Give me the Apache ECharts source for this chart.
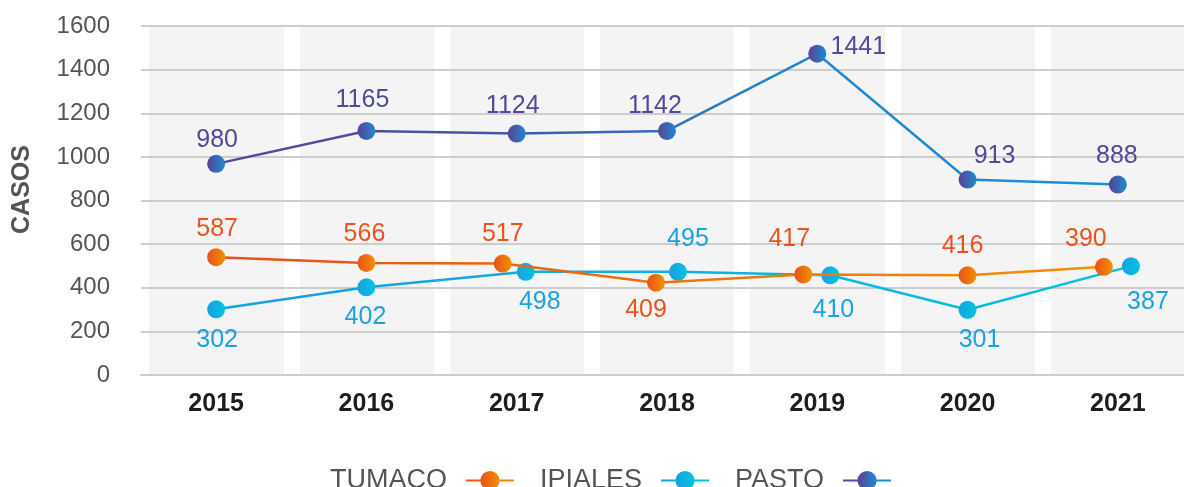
<!DOCTYPE html>
<html>
<head>
<meta charset="utf-8">
<script src="https://cdn.jsdelivr.net/npm/echarts@6/dist/echarts.min.js"></script>
<style>
    html, body { margin: 0; padding: 0; background: #fff; }
    #chart { width: 1184px; height: 487px; }
</style>
</head>
<body>
<div id="chart"></div>
<script>
// years on the x axis
var years = ['2015', '2016', '2017', '2018', '2019', '2020', '2021'];
var yTicks = [0, 200, 400, 600, 800, 1000, 1200, 1400, 1600];

// where the points sit on the picture
var tumacoValues = [540, 514, 511, 423, 461, 457, 496];
var ipialesValues = [301, 402, 473, 473, 457, 299, 499];
var pastoValues = [968, 1119, 1107, 1119, 1473, 896, 873];

// numbers printed next to the points
var tumacoLabels = [587, 566, 517, 409, 417, 416, 390];
var ipialesLabels = [302, 402, 498, 495, 410, 301, 387];
var pastoLabels = [980, 1165, 1124, 1142, 1441, 913, 888];

// small sideways shift so the markers do not overlap (in category units)
var tumacoDodge = [0, 0, -0.093, -0.073, -0.093, 0, -0.093];
var ipialesDodge = [0, 0, 0.06, 0.073, 0.087, 0, 0.087];
var pastoDodge = [0, 0, 0, 0, 0, 0, 0];

// label offsets from the point centre, px
var tumacoLabelOff = [[1, -28], [-2, -29], [0, -29], [-10, 27], [-14, -35], [-5, -29], [-18, -28]];
var ipialesLabelOff = [[1, 31], [-1, 30], [14, 30], [10, -33], [3, 35], [12, 30], [17, 36]];
var pastoLabelOff = [[1, -24], [-4, -31], [-4, -27], [-12, -25], [41, -7], [27, -23], [-1, -28]];

function grad(stops) {
    return new echarts.graphic.LinearGradient(0, 0, 1, 0, stops.map(function (s) {
        return {offset: s[0], color: s[1]};
    }));
}

function buildData(values, labels, dodge, offs) {
    return values.map(function (v, i) {
        return {
            value: [i + dodge[i], v],
            label: {
                formatter: String(labels[i]),
                offset: offs[i]
            }
        };
    });
}

function lineSeries(name, values, labels, dodge, offs, lineGrad, markGrad, labelColor, z) {
    return {
        name: name,
        type: 'line',
        xAxisIndex: 1,
        z: z,
        symbol: 'circle',
        symbolSize: 18,
        data: buildData(values, labels, dodge, offs),
        lineStyle: {width: 2.5, color: lineGrad},
        itemStyle: {color: markGrad},
        label: {
            show: true,
            position: 'inside',
            color: labelColor,
            fontSize: 25,
            fontFamily: 'Liberation Sans'
        },
        emphasis: {disabled: true},
        animation: false
    };
}

var chart = echarts.init(document.getElementById('chart'));

var option = {
    backgroundColor: '#fff',
    animation: false,
    grid: {left: 141, width: 1052, top: 26, bottom: 112, containLabel: false, outerBoundsMode: 'none'},
    legend: {
        data: ['TUMACO', 'IPIALES', 'PASTO'],
        left: 325,
        top: 462,
        align: 'right',
        itemWidth: 48,
        itemHeight: 24,
        itemGap: 25,
        textStyle: {
            fontSize: 27,
            color: '#555',
            fontFamily: 'Liberation Sans',
            padding: [0, 14, 0, 0]
        }
    },
    xAxis: [
        {
            type: 'category',
            data: years,
            boundaryGap: true,
            z: 0,
            axisLine: {show: true, lineStyle: {color: '#cdcdcd', width: 2}},
            axisTick: {show: false},
            axisLabel: {
                margin: 17,
                fontSize: 25,
                fontWeight: 'bold',
                color: '#1e1e1e',
                fontFamily: 'Liberation Sans'
            },
            splitArea: {show: true, areaStyle: {color: ['#f4f4f4']}},
            splitLine: {show: true, lineStyle: {color: '#ffffff', width: 16}}
        },
        {
            type: 'value',
            min: -0.5,
            max: 6.5,
            show: false
        }
    ],
    yAxis: {
        type: 'value',
        min: yTicks[0],
        max: yTicks[yTicks.length - 1],
        interval: 200,
        z: 1,
        name: 'CASOS',
        nameLocation: 'middle',
        nameGap: 106,
        nameTextStyle: {
            fontSize: 25,
            fontWeight: 'bold',
            color: '#555',
            fontFamily: 'Liberation Sans',
            padding: [0, 0, 0, 22]
        },
        axisLine: {show: false},
        axisTick: {show: false},
        axisLabel: {
            margin: 31,
            fontSize: 24,
            color: '#555',
            fontFamily: 'Liberation Sans',
            formatter: function (v) { return String(v); }
        },
        splitLine: {show: true, lineStyle: {color: '#cdcdcd', width: 2}}
    },
    series: [
        lineSeries('TUMACO', tumacoValues, tumacoLabels, tumacoDodge, tumacoLabelOff,
            grad([[0, '#e84e1b'], [1, '#f39200']]),
            grad([[0, '#e8501d'], [1, '#f39200']]),
            '#e8531f', 4),
        lineSeries('IPIALES', ipialesValues, ipialesLabels, ipialesDodge, ipialesLabelOff,
            grad([[0, '#1a9de0'], [1, '#00c3e0']]),
            grad([[0, '#1aa0e0'], [1, '#00c4e0']]),
            '#1aa3df', 3),
        lineSeries('PASTO', pastoValues, pastoLabels, pastoDodge, pastoLabelOff,
            grad([[0, '#55479a'], [0.3, '#4653a8'], [0.5, '#2c72c0'], [0.62, '#1f86cf'], [1, '#1a90d8']]),
            grad([[0, '#5a4094'], [1, '#1f8ad2']]),
            '#51499a', 5)
    ]
};

chart.setOption(option);
</script>
</body>
</html>
